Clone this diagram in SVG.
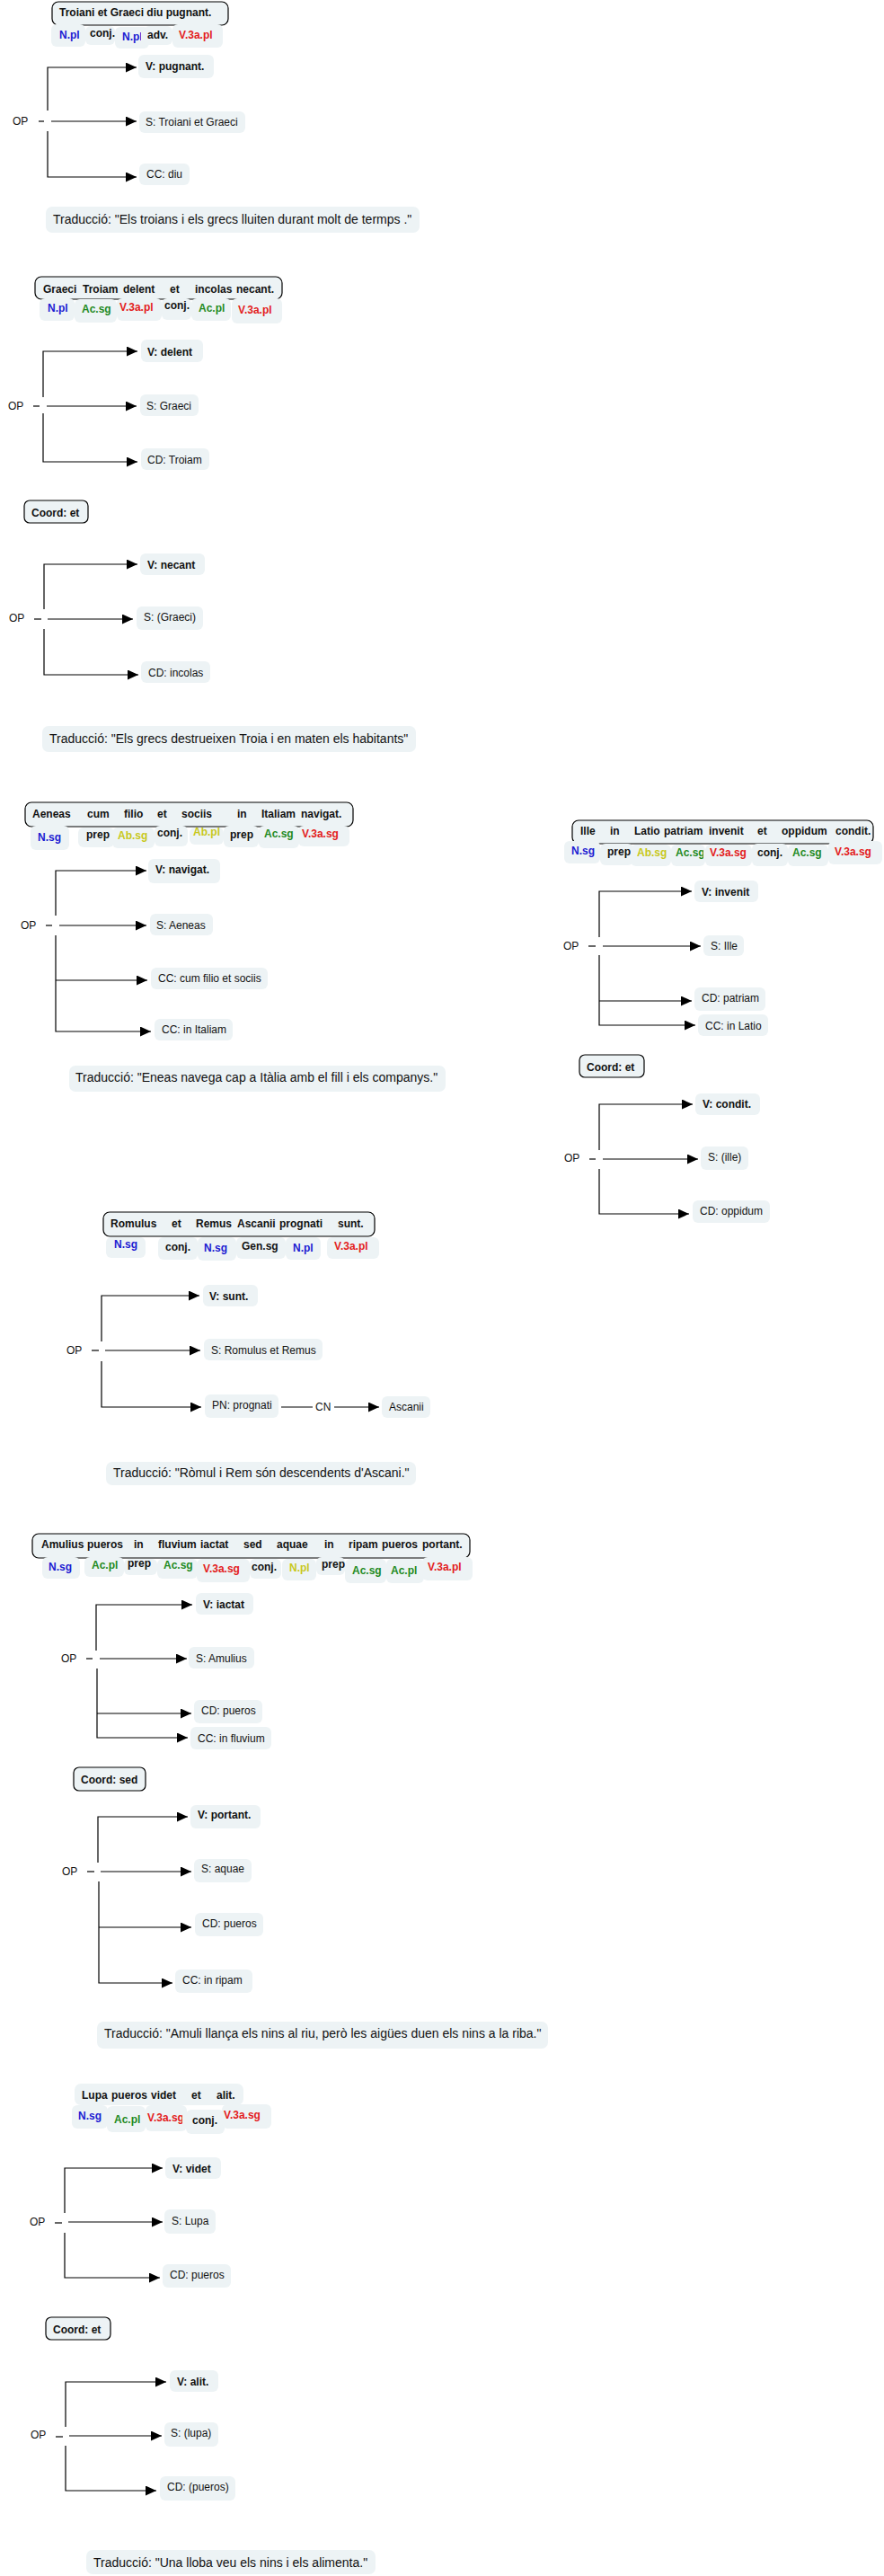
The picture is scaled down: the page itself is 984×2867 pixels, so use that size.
<svg xmlns="http://www.w3.org/2000/svg" width="984" height="2867" viewBox="0 0 984 2867">
<defs>
<style>
text{font-family:"Liberation Sans",Arial,sans-serif;font-size:12px;fill:#111}
.b{font-weight:bold}
.tr{font-size:14px}
.bl{fill:#1c1cd2}.gr{fill:#1f8a1f}.rd{fill:#e31c1c}.yl{fill:#c8c81c}
.sb{fill:#edf3f5;stroke:#000;stroke-width:1.2}
.sbn{fill:#edf3f5}
.tg{fill:#edf3f5}
.nd{fill:#edf3f5}
.c{fill:none;stroke:#000;stroke-width:1.2}
.a{marker-end:url(#ah)}
</style>
<marker id="ah" viewBox="0 0 12 11" refX="12" refY="5.5" markerWidth="12" markerHeight="11" markerUnits="userSpaceOnUse" orient="auto"><path d="M0,0 L12,5.5 L0,11 z" fill="#000"/></marker>
<clipPath id="cp1"><rect x="128" y="28" width="29" height="30"/></clipPath>
<clipPath id="cp2"><rect x="747" y="936" width="36" height="30"/></clipPath>
<clipPath id="cp3"><rect x="162" y="2340" width="41" height="34"/></clipPath>
</defs>
<rect width="984" height="2867" fill="#fff"/>

<g id="connectors">
<path class="c" d="M43,135 H49"/>
<path class="c a" d="M53,123 V75 H152"/>
<path class="c a" d="M57,135 H152"/>
<path class="c a" d="M53,146 V197 H152"/>
<path class="c" d="M37,452 H44"/>
<path class="c a" d="M48,442 V391 H153"/>
<path class="c a" d="M52,452 H152"/>
<path class="c a" d="M48,460 V514 H153"/>
<path class="c" d="M38,689 H46"/>
<path class="c a" d="M49,678 V628 H153"/>
<path class="c a" d="M53,689 H148"/>
<path class="c a" d="M49,700 V751 H154"/>
<path class="c" d="M51,1030 H58"/>
<path class="c a" d="M62,1019 V969 H163"/>
<path class="c a" d="M66,1030 H163"/>
<path class="c a" d="M62,1041 V1148 H168"/>
<path class="c a" d="M62,1091 H164"/>
<path class="c" d="M655,1053 H663"/>
<path class="c a" d="M667,1043 V992 H770"/>
<path class="c a" d="M671,1053 H780"/>
<path class="c a" d="M667,1063 V1141 H774"/>
<path class="c a" d="M667,1114 H770"/>
<path class="c" d="M656,1290 H663"/>
<path class="c a" d="M667,1280 V1229 H771"/>
<path class="c a" d="M671,1290 H777"/>
<path class="c a" d="M667,1301 V1351 H767"/>
<path class="c" d="M102,1503 H110"/>
<path class="c a" d="M113,1493 V1442 H222"/>
<path class="c a" d="M117,1503 H223"/>
<path class="c a" d="M113,1515 V1566 H224"/>
<path class="c" d="M313,1566 H348"/>
<path class="c a" d="M372,1566 H422"/>
<path class="c" d="M96,1846 H103"/>
<path class="c a" d="M107,1837 V1786 H214"/>
<path class="c a" d="M111,1846 H208"/>
<path class="c a" d="M108,1857 V1934 H209"/>
<path class="c a" d="M108,1907 H213"/>
<path class="c" d="M97,2083 H105"/>
<path class="c a" d="M109,2073 V2022 H209"/>
<path class="c a" d="M112,2083 H213"/>
<path class="c a" d="M110,2094 V2207 H192"/>
<path class="c a" d="M110,2145 H213"/>
<path class="c" d="M61,2474 H69"/>
<path class="c a" d="M72,2463 V2413 H181"/>
<path class="c a" d="M76,2473 H181"/>
<path class="c a" d="M72,2485 V2535 H178"/>
<path class="c" d="M62,2712 H70"/>
<path class="c a" d="M73,2701 V2651 H185"/>
<path class="c a" d="M77,2711 H180"/>
<path class="c a" d="M73,2722 V2772 H174"/>
</g>

<!-- ===== Section 1 ===== -->
<g id="sent1">
<rect class="sb" x="58" y="2" width="196" height="26" rx="7"/>
<text class="b" x="66" y="18">Troiani et Graeci diu pugnant.</text>
</g>
<g id="tags1">
<rect class="tg" x="57" y="27" width="38" height="25" rx="6"/><text class="b bl" x="66" y="43">N.pl</text>
<rect class="tg" x="95" y="29" width="33" height="21" rx="6"/><text class="b" x="100" y="41">conj.</text>
<rect class="tg" x="128" y="30" width="38" height="24" rx="6"/><text class="b bl" x="136" y="45" clip-path="url(#cp1)">N.pl</text>
<rect class="tg" x="160" y="29" width="32" height="21" rx="6"/><text class="b" x="164" y="43">adv.</text>
<rect class="tg" x="192" y="27" width="56" height="26" rx="6"/><text class="b rd" x="199" y="43">V.3a.pl</text>
</g>
<g id="op1"><text x="14" y="139">OP</text></g>
<g id="v1"><rect class="nd" x="154" y="61" width="84" height="26" rx="6"/><text class="b" x="162" y="78">V: pugnant.</text></g>
<g id="s1"><rect class="nd" x="155" y="124" width="118" height="24" rx="6"/><text x="162" y="140">S: Troiani et Graeci</text></g>
<g id="cc1"><rect class="nd" x="155" y="182" width="56" height="24" rx="6"/><text x="163" y="198">CC: diu</text></g>
<g id="tr1"><rect class="nd" x="51" y="230" width="416" height="29" rx="7"/><text class="tr" x="59" y="249">Traducció: "Els troians i els grecs lluiten durant molt de termps ."</text></g>

<!-- ===== Section 2 ===== -->
<g id="sent2">
<rect class="sb" x="39" y="308" width="275" height="25" rx="7"/>
<text class="b" x="48" y="326">Graeci</text><text class="b" x="92" y="326">Troiam</text><text class="b" x="137" y="326">delent</text><text class="b" x="189" y="326">et</text><text class="b" x="217" y="326">incolas</text><text class="b" x="263" y="326">necant.</text>
</g>
<g id="tags2">
<rect class="tg" x="44" y="332" width="39" height="25" rx="6"/><text class="b bl" x="53" y="347">N.pl</text>
<rect class="tg" x="83" y="333" width="47" height="26" rx="6"/><text class="b gr" x="91" y="348">Ac.sg</text>
<rect class="tg" x="130" y="332" width="50" height="25" rx="6"/><text class="b rd" x="133" y="346">V.3a.pl</text>
<rect class="tg" x="180" y="332" width="33" height="24" rx="6"/><text class="b" x="183" y="344">conj.</text>
<rect class="tg" x="213" y="332" width="44" height="25" rx="6"/><text class="b gr" x="221" y="347">Ac.pl</text>
<rect class="tg" x="258" y="332" width="56" height="28" rx="6"/><text class="b rd" x="265" y="349">V.3a.pl</text>
</g>
<g id="op2"><text x="9" y="456">OP</text></g>
<g id="v2"><rect class="nd" x="157" y="378" width="69" height="25" rx="6"/><text class="b" x="164" y="396">V: delent</text></g>
<g id="s2"><rect class="nd" x="156" y="439" width="65" height="24" rx="6"/><text x="163" y="456">S: Graeci</text></g>
<g id="cd2"><rect class="nd" x="157" y="499" width="76" height="24" rx="6"/><text x="164" y="516">CD: Troiam</text></g>
<g id="coord2"><rect class="sb" x="27" y="557" width="71" height="25" rx="6"/><text class="b" x="35" y="575">Coord: et</text></g>
<g id="op2b"><text x="10" y="692">OP</text></g>
<g id="v2b"><rect class="nd" x="156" y="616" width="72" height="24" rx="6"/><text class="b" x="164" y="633">V: necant</text></g>
<g id="s2b"><rect class="nd" x="152" y="675" width="74" height="26" rx="6"/><text x="160" y="691">S: (Graeci)</text></g>
<g id="cd2b"><rect class="nd" x="157" y="736" width="77" height="24" rx="6"/><text x="165" y="753">CD: incolas</text></g>
<g id="tr2"><rect class="nd" x="47" y="808" width="416" height="29" rx="7"/><text class="tr" x="55" y="827">Traducció: "Els grecs destrueixen Troia i en maten els habitants"</text></g>

<!-- ===== Section 3 ===== -->
<g id="sent3">
<rect class="sb" x="28" y="893" width="365" height="27" rx="7"/>
<text class="b" x="36" y="910">Aeneas</text><text class="b" x="97" y="910">cum</text><text class="b" x="138" y="910">filio</text><text class="b" x="175" y="910">et</text><text class="b" x="202" y="910">sociis</text><text class="b" x="264" y="910">in</text><text class="b" x="291" y="910">Italiam</text><text class="b" x="335" y="910">navigat.</text>
</g>
<g id="tags3">
<rect class="tg" x="34" y="919" width="43" height="27" rx="6"/><text class="b bl" x="42" y="936">N.sg</text>
<rect class="tg" x="87" y="921" width="40" height="22" rx="6"/><text class="b" x="96" y="933">prep</text>
<rect class="tg" x="125" y="921" width="47" height="23" rx="6"/><text class="b yl" x="131" y="934">Ab.sg</text>
<rect class="tg" x="172" y="919" width="37" height="23" rx="6"/><text class="b" x="175" y="931">conj.</text>
<rect class="tg" x="211" y="921" width="38" height="19" rx="6"/><text class="b yl" x="215" y="930">Ab.pl</text>
<rect class="tg" x="249" y="919" width="39" height="24" rx="6"/><text class="b" x="256" y="933">prep</text>
<rect class="tg" x="288" y="919" width="45" height="25" rx="6"/><text class="b gr" x="294" y="932">Ac.sg</text>
<rect class="tg" x="332" y="919" width="57" height="23" rx="6"/><text class="b rd" x="336" y="932">V.3a.sg</text>
</g>
<g id="op3"><text x="23" y="1034">OP</text></g>
<g id="v3"><rect class="nd" x="165" y="956" width="80" height="27" rx="6"/><text class="b" x="173" y="972">V: navigat.</text></g>
<g id="s3"><rect class="nd" x="167" y="1017" width="70" height="24" rx="6"/><text x="174" y="1034">S: Aeneas</text></g>
<g id="cc3a"><rect class="nd" x="168" y="1077" width="130" height="24" rx="6"/><text x="176" y="1093">CC: cum filio et sociis</text></g>
<g id="cc3b"><rect class="nd" x="172" y="1134" width="87" height="24" rx="6"/><text x="180" y="1150">CC: in Italiam</text></g>
<g id="tr3"><rect class="nd" x="77" y="1186" width="419" height="29" rx="7"/><text class="tr" x="84" y="1204">Traducció: "Eneas navega cap a Itàlia amb el fill i els companys."</text></g>

<!-- ===== Section 4 ===== -->
<g id="sent4">
<rect class="sb" x="637" y="913" width="335" height="26" rx="7"/>
<text class="b" x="646" y="929">Ille</text><text class="b" x="679" y="929">in</text><text class="b" x="706" y="929">Latio</text><text class="b" x="739" y="929">patriam</text><text class="b" x="789" y="929">invenit</text><text class="b" x="843" y="929">et</text><text class="b" x="870" y="929">oppidum</text><text class="b" x="930" y="929">condit.</text>
</g>
<g id="tags4">
<rect class="tg" x="628" y="936" width="40" height="25" rx="6"/><text class="b bl" x="636" y="951">N.sg</text>
<rect class="tg" x="668" y="939" width="37" height="24" rx="6"/><text class="b" x="676" y="952">prep</text>
<rect class="tg" x="702" y="940" width="45" height="24" rx="6"/><text class="b yl" x="709" y="953">Ab.sg</text>
<rect class="tg" x="747" y="940" width="38" height="24" rx="6"/><text class="b gr" x="752" y="953" clip-path="url(#cp2)">Ac.sg</text>
<rect class="tg" x="785" y="940" width="52" height="24" rx="6"/><text class="b rd" x="790" y="953">V.3a.sg</text>
<rect class="tg" x="837" y="939" width="40" height="25" rx="6"/><text class="b" x="843" y="953">conj.</text>
<rect class="tg" x="877" y="940" width="45" height="24" rx="6"/><text class="b gr" x="882" y="953">Ac.sg</text>
<rect class="tg" x="922" y="936" width="60" height="26" rx="6"/><text class="b rd" x="929" y="952">V.3a.sg</text>
</g>
<g id="op4"><text x="627" y="1057">OP</text></g>
<g id="v4"><rect class="nd" x="773" y="980" width="71" height="24" rx="6"/><text class="b" x="781" y="997">V: invenit</text></g>
<g id="s4"><rect class="nd" x="783" y="1041" width="45" height="23" rx="6"/><text x="791" y="1057">S: Ille</text></g>
<g id="cd4"><rect class="nd" x="773" y="1099" width="79" height="26" rx="6"/><text x="781" y="1115">CD: patriam</text></g>
<g id="cc4"><rect class="nd" x="777" y="1129" width="78" height="24" rx="6"/><text x="785" y="1146">CC: in Latio</text></g>
<g id="coord4"><rect class="sb" x="645" y="1174" width="72" height="25" rx="6"/><text class="b" x="653" y="1192">Coord: et</text></g>
<g id="op4b"><text x="628" y="1293">OP</text></g>
<g id="v4b"><rect class="nd" x="774" y="1217" width="72" height="24" rx="6"/><text class="b" x="782" y="1233">V: condit.</text></g>
<g id="s4b"><rect class="nd" x="780" y="1276" width="53" height="26" rx="6"/><text x="788" y="1292">S: (ille)</text></g>
<g id="cd4b"><rect class="nd" x="771" y="1336" width="86" height="25" rx="6"/><text x="779" y="1352">CD: oppidum</text></g>

<!-- ===== Section 5 ===== -->
<g id="sent5">
<rect class="sb" x="115" y="1349" width="302" height="27" rx="7"/>
<text class="b" x="123" y="1366">Romulus</text><text class="b" x="191" y="1366">et</text><text class="b" x="218" y="1366">Remus</text><text class="b" x="264" y="1366">Ascanii</text><text class="b" x="311" y="1366">prognati</text><text class="b" x="376" y="1366">sunt.</text>
</g>
<g id="tags5">
<rect class="tg" x="118" y="1377" width="44" height="23" rx="6"/><text class="b bl" x="127" y="1389">N.sg</text>
<rect class="tg" x="176" y="1377" width="44" height="25" rx="6"/><text class="b" x="184" y="1392">conj.</text>
<rect class="tg" x="220" y="1377" width="43" height="26" rx="6"/><text class="b bl" x="227" y="1393">N.sg</text>
<rect class="tg" x="263" y="1377" width="55" height="24" rx="6"/><text class="b" x="269" y="1391">Gen.sg</text>
<rect class="tg" x="318" y="1377" width="39" height="25" rx="6"/><text class="b bl" x="326" y="1393">N.pl</text>
<rect class="tg" x="364" y="1377" width="58" height="24" rx="6"/><text class="b rd" x="372" y="1391">V.3a.pl</text>
</g>
<g id="op5"><text x="74" y="1507">OP</text></g>
<g id="v5"><rect class="nd" x="226" y="1430" width="61" height="24" rx="6"/><text class="b" x="233" y="1447">V: sunt.</text></g>
<g id="s5"><rect class="nd" x="227" y="1490" width="132" height="24" rx="6"/><text x="235" y="1507">S: Romulus et Remus</text></g>
<g id="pn5"><rect class="nd" x="228" y="1552" width="82" height="26" rx="6"/><text x="236" y="1568">PN: prognati</text></g>
<g id="cn5"><text x="351" y="1570">CN</text></g>
<g id="asc5"><rect class="nd" x="425" y="1554" width="54" height="24" rx="6"/><text x="433" y="1570">Ascanii</text></g>
<g id="tr5"><rect class="nd" x="118" y="1627" width="345" height="26" rx="7"/><text class="tr" x="126" y="1644">Traducció: "Ròmul i Rem són descendents d'Ascani."</text></g>

<!-- ===== Section 6 ===== -->
<g id="sent6">
<rect class="sb" x="36" y="1707" width="487" height="27" rx="7"/>
<text class="b" x="46" y="1723">Amulius</text><text class="b" x="97" y="1723">pueros</text><text class="b" x="149" y="1723">in</text><text class="b" x="176" y="1723">fluvium</text><text class="b" x="223" y="1723">iactat</text><text class="b" x="271" y="1723">sed</text><text class="b" x="308" y="1723">aquae</text><text class="b" x="361" y="1723">in</text><text class="b" x="388" y="1723">ripam</text><text class="b" x="425" y="1723">pueros</text><text class="b" x="470" y="1723">portant.</text>
</g>
<g id="tags6">
<rect class="tg" x="47" y="1733" width="42" height="24" rx="6"/><text class="b bl" x="54" y="1748">N.sg</text>
<rect class="tg" x="94" y="1733" width="44" height="22" rx="6"/><text class="b gr" x="102" y="1746">Ac.pl</text>
<rect class="tg" x="138" y="1735" width="37" height="18" rx="6"/><text class="b" x="142" y="1744">prep</text>
<rect class="tg" x="175" y="1735" width="45" height="22" rx="6"/><text class="b gr" x="182" y="1746">Ac.sg</text>
<rect class="tg" x="219" y="1735" width="59" height="26" rx="6"/><text class="b rd" x="226" y="1750">V.3a.sg</text>
<rect class="tg" x="278" y="1735" width="35" height="22" rx="6"/><text class="b" x="280" y="1748">conj.</text>
<rect class="tg" x="314" y="1735" width="38" height="24" rx="6"/><text class="b yl" x="322" y="1749">N.pl</text>
<rect class="tg" x="352" y="1733" width="32" height="20" rx="6"/><text class="b" x="358" y="1745">prep</text>
<rect class="tg" x="384" y="1735" width="46" height="27" rx="6"/><text class="b gr" x="392" y="1752">Ac.sg</text>
<rect class="tg" x="430" y="1735" width="42" height="27" rx="6"/><text class="b gr" x="435" y="1752">Ac.pl</text>
<rect class="tg" x="470" y="1733" width="56" height="26" rx="6"/><text class="b rd" x="476" y="1748">V.3a.pl</text>
</g>
<g id="op6"><text x="68" y="1850">OP</text></g>
<g id="v6"><rect class="nd" x="218" y="1773" width="64" height="24" rx="6"/><text class="b" x="226" y="1790">V: iactat</text></g>
<g id="s6"><rect class="nd" x="210" y="1833" width="73" height="24" rx="6"/><text x="218" y="1850">S: Amulius</text></g>
<g id="cd6"><rect class="nd" x="216" y="1892" width="76" height="26" rx="6"/><text x="224" y="1908">CD: pueros</text></g>
<g id="cc6"><rect class="nd" x="212" y="1922" width="90" height="25" rx="6"/><text x="220" y="1939">CC: in fluvium</text></g>
<g id="coord6"><rect class="sb" x="82" y="1967" width="80" height="26" rx="6"/><text class="b" x="90" y="1985">Coord: sed</text></g>
<g id="op6b"><text x="69" y="2087">OP</text></g>
<g id="v6b"><rect class="nd" x="212" y="2009" width="78" height="26" rx="6"/><text class="b" x="220" y="2024">V: portant.</text></g>
<g id="s6b"><rect class="nd" x="216" y="2069" width="64" height="26" rx="6"/><text x="224" y="2084">S: aquae</text></g>
<g id="cd6b"><rect class="nd" x="217" y="2129" width="76" height="26" rx="6"/><text x="225" y="2145">CD: pueros</text></g>
<g id="cc6b"><rect class="nd" x="195" y="2192" width="86" height="26" rx="6"/><text x="203" y="2208">CC: in ripam</text></g>
<g id="tr6"><rect class="nd" x="108" y="2250" width="502" height="30" rx="7"/><text class="tr" x="116" y="2268">Traducció: "Amuli llança els nins al riu, però les aigües duen els nins a la riba."</text></g>

<!-- ===== Section 7 ===== -->
<g id="sent7">
<rect class="sbn" x="83" y="2319" width="188" height="24" rx="7"/>
<text class="b" x="91" y="2336">Lupa</text><text class="b" x="124" y="2336">pueros</text><text class="b" x="168" y="2336">videt</text><text class="b" x="213" y="2336">et</text><text class="b" x="241" y="2336">alit.</text>
</g>
<g id="tags7">
<rect class="tg" x="80" y="2343" width="40" height="26" rx="6"/><text class="b bl" x="87" y="2359">N.sg</text>
<rect class="tg" x="119" y="2344" width="43" height="29" rx="6"/><text class="b gr" x="127" y="2363">Ac.pl</text>
<rect class="tg" x="162" y="2343" width="46" height="29" rx="6"/><text class="b rd" x="164" y="2361" clip-path="url(#cp3)">V.3a.sg</text>
<rect class="tg" x="207" y="2348" width="43" height="27" rx="6"/><text class="b" x="214" y="2364">conj.</text>
<rect class="tg" x="247" y="2342" width="55" height="27" rx="6"/><text class="b rd" x="249" y="2358">V.3a.sg</text>
</g>
<g id="op7"><text x="33" y="2477">OP</text></g>
<g id="v7"><rect class="nd" x="184" y="2401" width="62" height="24" rx="6"/><text class="b" x="192" y="2418">V: videt</text></g>
<g id="s7"><rect class="nd" x="183" y="2459" width="57" height="27" rx="6"/><text x="191" y="2476">S: Lupa</text></g>
<g id="cd7"><rect class="nd" x="181" y="2520" width="76" height="26" rx="6"/><text x="189" y="2536">CD: pueros</text></g>
<g id="coord7"><rect class="sb" x="51" y="2579" width="72" height="25" rx="6"/><text class="b" x="59" y="2597">Coord: et</text></g>
<g id="op7b"><text x="34" y="2714">OP</text></g>
<g id="v7b"><rect class="nd" x="189" y="2638" width="54" height="24" rx="6"/><text class="b" x="197" y="2655">V: alit.</text></g>
<g id="s7b"><rect class="nd" x="183" y="2696" width="60" height="27" rx="6"/><text x="190" y="2712">S: (lupa)</text></g>
<g id="cd7b"><rect class="nd" x="178" y="2756" width="84" height="27" rx="6"/><text x="186" y="2772">CD: (pueros)</text></g>
<g id="tr7"><rect class="nd" x="96" y="2838" width="322" height="27" rx="7"/><text class="tr" x="104" y="2857">Traducció: "Una lloba veu els nins i els alimenta."</text></g>
</svg>
